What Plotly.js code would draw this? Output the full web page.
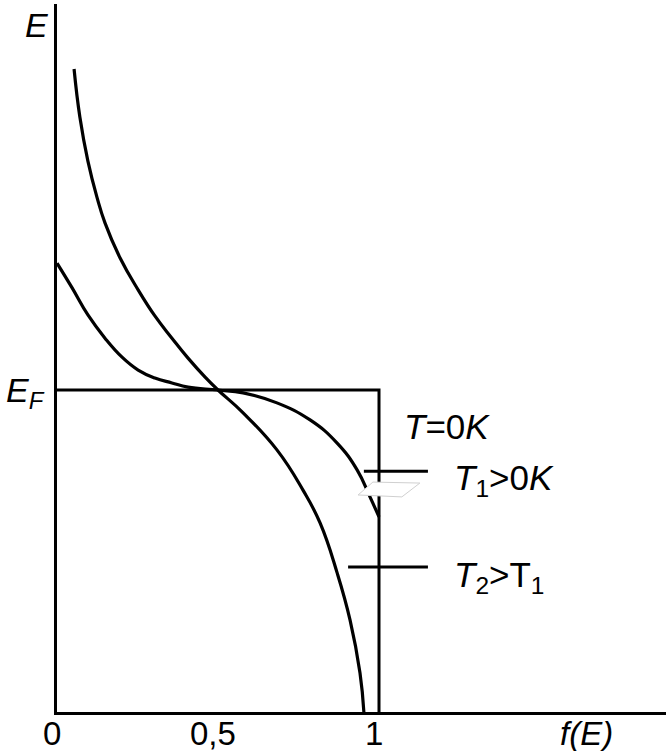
<!DOCTYPE html>
<html>
<head>
<meta charset="utf-8">
<script src="https://cdn.plot.ly/plotly-3.0.1.min.js"></script>
<style>html,body{margin:0;padding:0;background:#fff;}</style>
</head>
<body>
<div id="chart" style="width:666px;height:751px;"></div>
<script>
// Fermi level (E measured in units of E_F's height above the f-axis)
var fermiLevel = 1.0;

// T = 0 K step: f = 1 below E_F, 0 above
var stepF = [0, 1, 1];
var stepE = [1.0, 1.0, 0];

// T1 > 0 K curve
var t1F = [0, 0.047, 0.096, 0.149, 0.202, 0.252, 0.304, 0.357, 0.407, 0.5, 0.578, 0.683, 0.786, 0.870, 0.932, 0.972, 1.0];
var t1E = [1.394, 1.317, 1.233, 1.161, 1.102, 1.062, 1.037, 1.022, 1.009, 1.0, 0.991, 0.960, 0.907, 0.835, 0.752, 0.668, 0.606];

// T2 > T1 curve
var t2F = [0.053, 0.071, 0.096, 0.124, 0.149, 0.196, 0.252, 0.304, 0.357, 0.407, 0.460, 0.5, 0.578, 0.683, 0.764, 0.817, 0.870, 0.910, 0.941, 0.953];
var t2E = [1.997, 1.848, 1.711, 1.599, 1.519, 1.410, 1.311, 1.230, 1.161, 1.099, 1.040, 1.0, 0.929, 0.814, 0.689, 0.587, 0.432, 0.286, 0.121, 0.0];

// leader lines for the curve labels
var leader1F = [0.953, 1.152], leader1E = [0.748, 0.748];
var leader2F = [0.904, 1.152], leader2E = [0.450, 0.450];

// small grey quadrilateral artefact
var patchF = [0.935, 0.981, 1.127, 1.071, 0.935];
var patchE = [0.674, 0.714, 0.711, 0.668, 0.674];

// tick labels
var xTickVals = [0, 0.5, 1];
var xTickText = ['0', '0,5', '1'];
var yTickVals = [fermiLevel];
var yTickText = ['<i>E<sub>F</sub></i>'];

var blk = {color: '#000', width: 3};
var curve = {color: '#000', width: 3.2, shape: 'spline', smoothing: 1.3};
var traces = [
  {x: stepF, y: stepE, mode: 'lines', line: blk, hoverinfo: 'skip'},
  {x: t1F, y: t1E, mode: 'lines', line: curve, hoverinfo: 'skip'},
  {x: t2F, y: t2E, mode: 'lines', line: curve, hoverinfo: 'skip'},
  {x: leader1F, y: leader1E, mode: 'lines', line: blk, hoverinfo: 'skip'},
  {x: leader2F, y: leader2E, mode: 'lines', line: blk, hoverinfo: 'skip'},
  {x: patchF, y: patchE, mode: 'lines', fill: 'toself', fillcolor: '#fff', line: {color: '#d0d0d0', width: 1}, hoverinfo: 'skip'}
];

var font = 'Liberation Sans, Arial, sans-serif';
var annotations = [
  {xref: 'paper', yref: 'paper', x: -0.0115, y: 0.9703, xanchor: 'right', yanchor: 'middle', showarrow: false,
   text: '<i>E</i>', font: {family: font, size: 34, color: '#000'}},
  {xref: 'paper', yref: 'paper', x: 0.8227, y: -0.0304, xanchor: 'left', yanchor: 'middle', showarrow: false,
   text: '<i>f(E)</i>', font: {family: font, size: 33, color: '#000'}},
  {xref: 'x', yref: 'y', x: 1.071, y: 0.888, xanchor: 'left', yanchor: 'middle', showarrow: false,
   text: '<i>T</i>=0<i>K</i>', font: {family: font, size: 35, color: '#000'}},
  {xref: 'x', yref: 'y', x: 1.227, y: 0.720, xanchor: 'left', yanchor: 'middle', showarrow: false,
   text: '<i>T</i><sub>1</sub>>0<i>K</i>', font: {family: font, size: 35, color: '#000'}},
  {xref: 'x', yref: 'y', x: 1.227, y: 0.419, xanchor: 'left', yanchor: 'middle', showarrow: false,
   text: '<i>T</i><sub>2</sub>>T<sub>1</sub>', font: {family: font, size: 35, color: '#000'}}
];
// x tick labels placed just under the f-axis
for (var i = 0; i < xTickVals.length; i++) {
  annotations.push({xref: 'x', yref: 'paper', x: xTickVals[i], y: -0.0304, xshift: -5,
    xanchor: 'center', yanchor: 'middle', showarrow: false,
    text: xTickText[i], font: {family: font, size: 33, color: '#000'}});
}

var layout = {
  width: 666, height: 751,
  margin: {l: 57, r: 0, t: 4, b: 39, pad: 0},
  paper_bgcolor: '#fff', plot_bgcolor: '#fff',
  showlegend: false,
  xaxis: {
    range: [0, 609/322], showgrid: false, zeroline: false,
    showline: true, linecolor: '#000', linewidth: 3,
    tickmode: 'array', tickvals: xTickVals, ticktext: xTickText,
    showticklabels: false, ticks: ''
  },
  yaxis: {
    range: [0, 708/322], showgrid: false, zeroline: false,
    showline: true, linecolor: '#000', linewidth: 3,
    tickmode: 'array', tickvals: yTickVals, ticktext: yTickText,
    ticks: '', ticklabelstandoff: 4,
    tickfont: {family: font, size: 34, color: '#000'}
  },
  annotations: annotations
};

Plotly.newPlot('chart', traces, layout, {staticPlot: true, displayModeBar: false});
</script>
</body>
</html>
